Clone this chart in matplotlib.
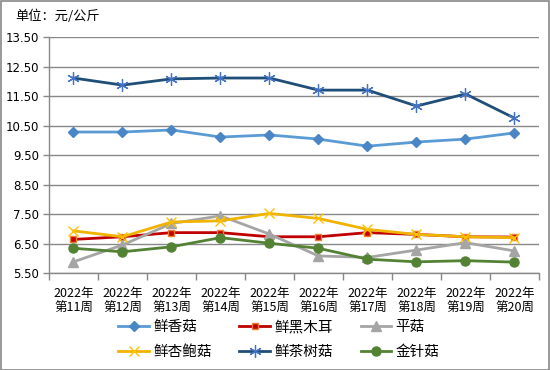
import matplotlib
matplotlib.use("Agg")
import matplotlib.pyplot as plt
import numpy as np

plt.rcParams['font.family'] = ['Noto Sans CJK SC', 'DejaVu Sans']

weeks = ["2022年\n第11周", "2022年\n第12周", "2022年\n第13周", "2022年\n第14周", "2022年\n第15周",
         "2022年\n第16周", "2022年\n第17周", "2022年\n第18周", "2022年\n第19周", "2022年\n第20周"]

xianxianggu = [10.28, 10.28, 10.35, 10.11, 10.18, 10.04, 9.80, 9.94, 10.04, 10.25]
xianheimuer = [6.64, 6.73, 6.87, 6.87, 6.73, 6.73, 6.87, 6.81, 6.73, 6.72]
pinggu = [5.88, 6.45, 7.18, 7.44, 6.82, 6.08, 6.03, 6.28, 6.53, 6.25]
xingbaogu = [6.93, 6.73, 7.23, 7.27, 7.52, 7.35, 6.98, 6.81, 6.73, 6.70]
chashugu = [12.11, 11.87, 12.08, 12.11, 12.11, 11.70, 11.70, 11.16, 11.57, 10.75]
jinzhengu = [6.34, 6.22, 6.39, 6.70, 6.51, 6.34, 5.97, 5.88, 5.92, 5.87]

series = [
    ("鲜香菇", xianxianggu, dict(color="#5B9BD5", marker="D", ms=5, mfc="#4A86C5", mec="#4A86C5")),
    ("鲜黑木耳", xianheimuer, dict(color="#C00000", marker="s", ms=5, mfc="#C00000", mec="#ED7D31", mew=1.0)),
    ("平菇", pinggu, dict(color="#A5A5A5", marker="^", ms=6.5, mfc="#A5A5A5", mec="#A5A5A5")),
    ("鲜杏鲍菇", xingbaogu, dict(color="#F0B400", marker="x", ms=7, mfc="none", mec="#FFC000", mew=1.0)),
    ("鲜茶树菇", chashugu, dict(color="#1F4E79", marker=(6, 2, 0), ms=9, mec="#4472C4", mew=0.9)),
    ("金针菇", jinzhengu, dict(color="#548235", marker="o", ms=6.5, mfc="#548235", mec="#548235")),
]

fig = plt.figure(figsize=(5.5, 3.7), dpi=100)
ax = fig.add_axes([0.089, 0.262, 0.891, 0.638])

x = np.arange(len(weeks))
handles = {}
for name, vals, st in series:
    h, = ax.plot(x, vals, lw=2.0, label=name, **st)
    handles[name] = h

ax.set_xlim(-0.5, len(weeks) - 0.5)
ax.set_ylim(5.5, 13.5)
yt = np.arange(5.5, 13.51, 1.0)
ax.set_yticks(yt)
ax.set_yticklabels([f"{v:.2f}" for v in yt], fontsize=8.5, family='DejaVu Sans')
ax.set_xticks(x)
ax.set_xticklabels(weeks, fontsize=9, linespacing=1.15)
ax.set_xticks(np.arange(-0.5, len(weeks), 1.0), minor=True)
ax.tick_params(axis='x', which='major', length=0, pad=10)
ax.tick_params(axis='x', which='minor', length=5, color="#888888", width=1)
ax.tick_params(axis='y', length=4, color="#888888", width=1, pad=3)
ax.grid(axis='y', color="#888888", lw=1)
ax.set_axisbelow(True)
for s in ['top', 'right']:
    ax.spines[s].set_visible(False)
for s in ['left', 'bottom']:
    ax.spines[s].set_color("#888888")
    ax.spines[s].set_linewidth(1)

fig.text(0.027, 0.955, "单位：元/公斤", fontsize=9.5, ha='left', va='center')

order = ["鲜香菇", "鲜杏鲍菇", "鲜黑木耳", "鲜茶树菇", "平菇", "金针菇"]
leg = fig.legend([handles[n] for n in order], order, loc='center', bbox_to_anchor=(0.507, 0.082),
                 ncol=3, frameon=False, fontsize=10.5, handlelength=2.1, columnspacing=1.9,
                 handletextpad=0.3, labelspacing=0.75)

border = plt.Rectangle((0.001, 0.001), 0.997, 0.996, transform=fig.transFigure,
                       fill=False, edgecolor="#888888", lw=1.2)
fig.patches.append(border)

fig.savefig("out.png", dpi=100)
